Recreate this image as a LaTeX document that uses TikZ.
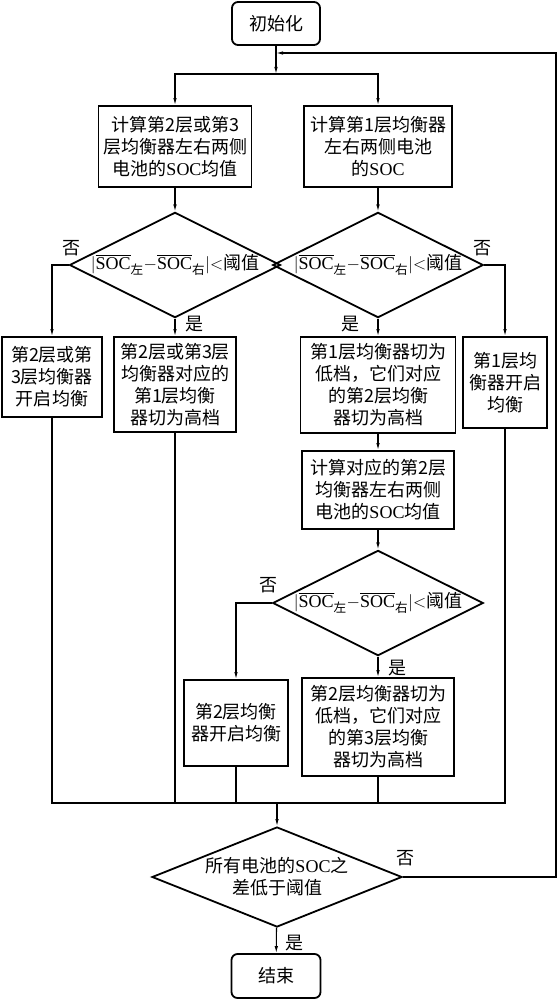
\documentclass[tikz,border=0pt]{standalone}
\usepackage{amsmath}
\usepackage{fontspec}
\setmainfont{Noto Sans CJK SC}
\newfontfamily\tnr{Liberation Serif}
\usetikzlibrary{shapes.geometric,arrows.meta}
\tikzset{>={Latex[length=7pt,width=3.5pt]}}
\newcommand{\SOC}{{\tnr SOC}}
\newcommand{\dif}{$|\overline{\text{\SOC}}_{\text{左}}{-}\overline{\text{\SOC}}_{\text{右}}|{<}$阈值}
\begin{document}
\begin{tikzpicture}[x=1pt,y=-1pt,
  every node/.style={font=\fontsize{18}{22}\selectfont},
  box/.style={draw,line width=1.8pt,align=center,inner sep=0pt},
  rbox/.style={box,rounded corners=6pt},
  dec/.style={draw,line width=1.8pt,diamond,aspect=2,inner sep=0pt,align=center},
  arr/.style={->,line width=1.1pt},
  ln/.style={line width=1.1pt}]
\useasboundingbox (0,0) rectangle (557,1000);
\node[rbox,minimum width=88pt,minimum height=43pt] (init) at (276,23.5) {初始化};
\node[box,minimum width=153pt,minimum height=81pt] (avg23) at (175,146.5) {计算第2层或第3\\层均衡器左右两侧\\电池的\SOC 均值};
\node[box,minimum width=148pt,minimum height=81pt] (soc1) at (378,146.5) {计算第1层均衡器\\左右两侧电池\\的\SOC};
\node[dec,minimum width=211pt,minimum height=104pt] (chk23) at (175,265) {\dif};
\node[dec,minimum width=208pt,minimum height=104pt] (chk1) at (378,265) {\dif};
\node[box,minimum width=100pt,minimum height=80pt] (on23) at (52,377) {第2层或第\\3层均衡器\\开启均衡};
\node[box,minimum width=122pt,minimum height=95pt] (hi1) at (175,384.5) {第2层或第3层\\均衡器对应的\\第1层均衡\\器切为高档};
\node[box,minimum width=155pt,minimum height=96pt] (lo1) at (378,385) {第1层均衡器切为\\低档，它们对应\\的第2层均衡\\器切为高档};
\node[box,minimum width=84pt,minimum height=91pt] (on1) at (505,382.5) {第1层均\\衡器开启\\均衡};
\node[box,minimum width=152pt,minimum height=78pt] (avg2) at (378,490) {计算对应的第2层\\均衡器左右两侧\\电池的\SOC 均值};
\node[dec,minimum width=203pt,minimum height=100pt] (chk2) at (378,603) {\dif};
\node[box,minimum width=104pt,minimum height=86pt] (on2) at (236,723) {第2层均衡\\器开启均衡};
\node[box,minimum width=152pt,minimum height=98pt] (lo2) at (378,727) {第2层均衡器切为\\低档，它们对应\\的第3层均衡\\器切为高档};
\node[dec,aspect=2.5,minimum width=250pt,minimum height=100pt] (all) at (277,877) {所有电池的\SOC 之\\差低于阈值};
\node[rbox,minimum width=89pt,minimum height=44pt] (end) at (276,976) {结束};
\coordinate (split) at (276,74);
\coordinate (back) at (276,53);
\coordinate (loop) at (556,53);
\coordinate (merge) at (277,803);
\draw[arr] (init) -- (split);
\draw[arr] (split) -| (avg23);
\draw[arr] (split) -| (soc1);
\draw[arr] (avg23) -- (chk23);
\draw[arr] (soc1) -- (chk1);
\draw[arr] (chk23.west) -| (on23);
\draw[arr] (chk23) -- (hi1);
\draw[arr] (chk1) -- (lo1);
\draw[arr] (chk1.east) -| (on1);
\draw[arr] (lo1) -- (avg2);
\draw[arr] (avg2) -- (chk2);
\draw[arr] (chk2.west) -| (on2);
\draw[arr] (chk2) -- (lo2);
\draw[ln] (on23) |- (merge);
\draw[ln] (on1) |- (merge);
\draw[ln] (hi1) -- (hi1 |- merge);
\draw[ln] (on2) -- (on2 |- merge);
\draw[ln] (lo2) -- (lo2 |- merge);
\draw[arr] (merge) -- (all);
\draw[arr] (all) -- (end);
\draw[arr] (all.east) -| (loop) -- (back);
\node (no1) at ([shift={(3,-17)}]chk23.west) {否};
\node (no2) at ([shift={(-2,-17)}]chk1.east) {否};
\node (yes1) at ([shift={(19,6)}]chk23.south) {是};
\node (yes2) at ([shift={(-28,6)}]chk1.south) {是};
\node (no3) at ([shift={(-3,-18)}]chk2.west) {否};
\node (yes3) at ([shift={(19,12)}]chk2.south) {是};
\node (no4) at ([shift={(3,-19)}]all.east) {否};
\node (yes4) at ([shift={(17,15)}]all.south) {是};
\end{tikzpicture}
\end{document}
